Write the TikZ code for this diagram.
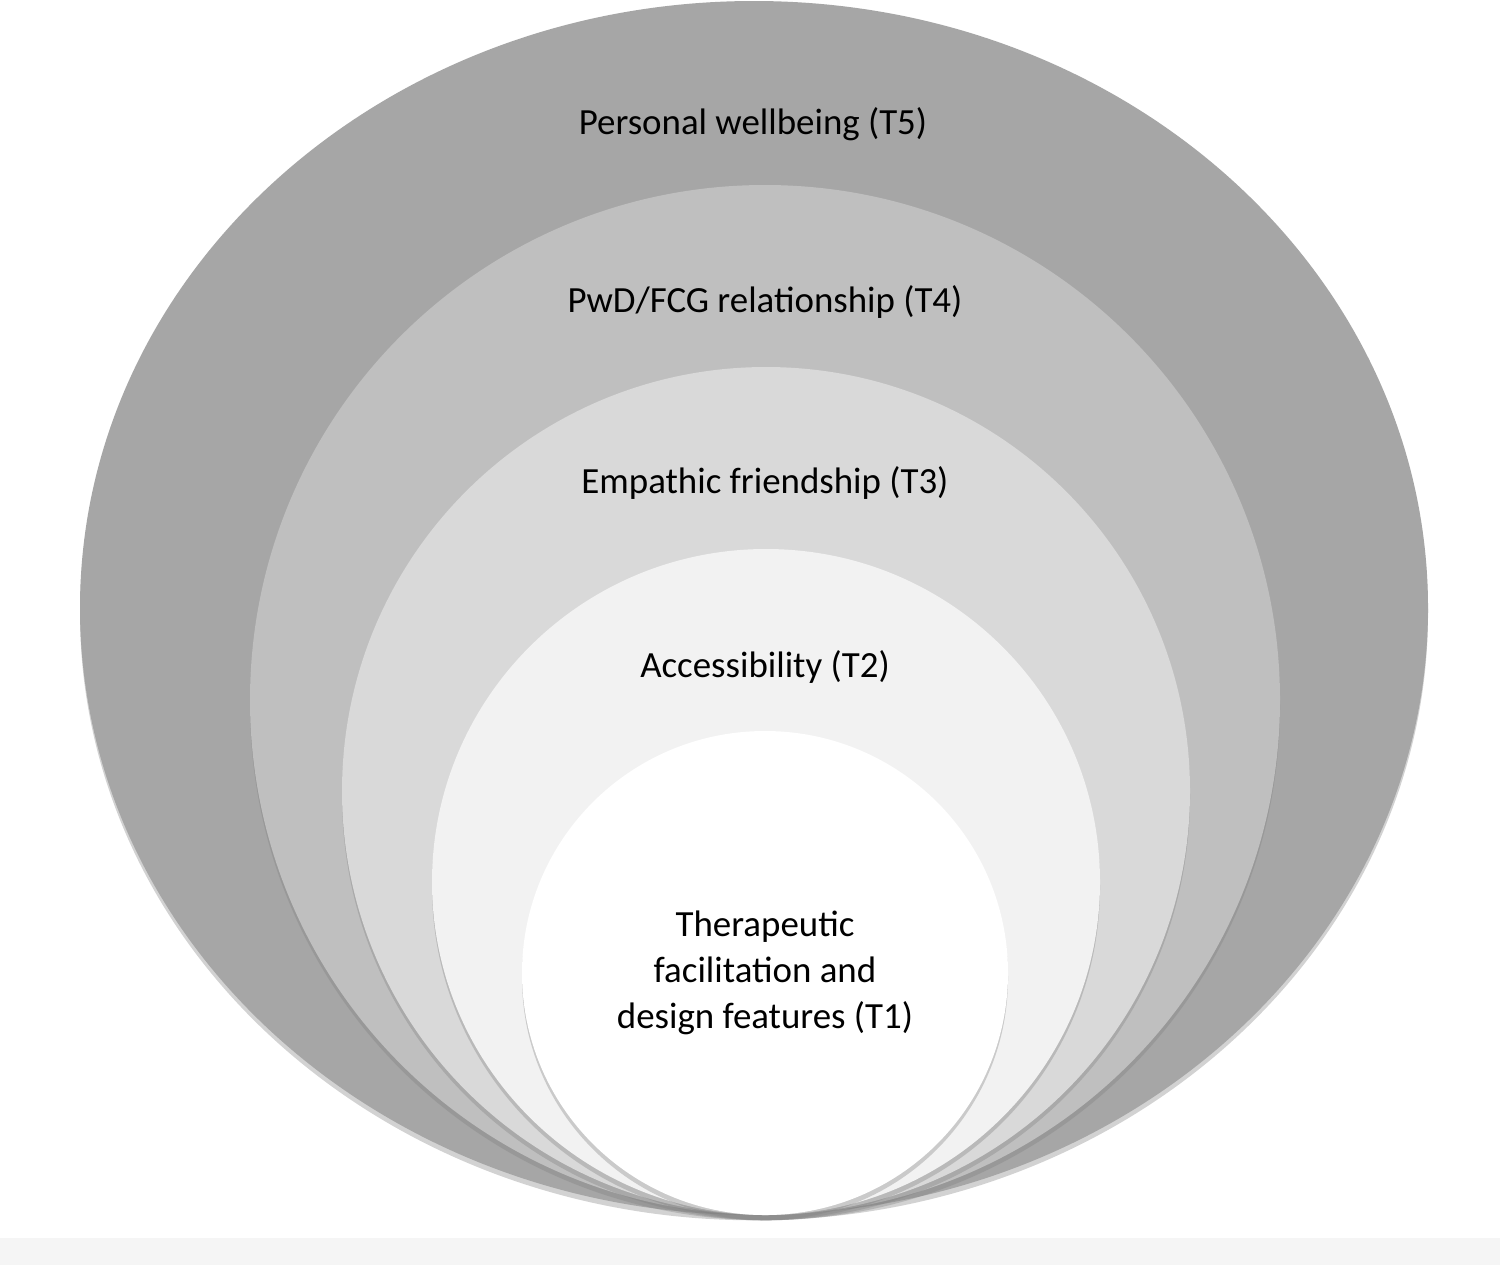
\documentclass[tikz,border=0pt]{standalone}
\usepackage{fontspec}
\setmainfont{Carlito}
\usetikzlibrary{shadows}
\tikzset{
  ring/.style={draw=none, drop shadow={shadow xshift=0pt, shadow yshift=-3pt, opacity=0.35}},
  label/.style={font=\fontsize{21}{26}\selectfont, align=center}
}
\begin{document}
\begin{tikzpicture}[x=0.02cm, y=-0.02cm]
    \useasboundingbox (0,0) rectangle (1500,1265);
    \fill[white] (0,0) rectangle (1500,1265);
    \fill[gray!8] (0,1238) rectangle (1500,1265);

    % rings, outer to inner, all touching at the bottom
    \fill[ring, fill={rgb,255:red,166;green,166;blue,166}] (754,608) ellipse (674 and 607);
    \fill[ring, fill={rgb,255:red,191;green,191;blue,191}] (765,700) ellipse (515 and 515);
    \fill[ring, fill={rgb,255:red,217;green,217;blue,217}] (766,791) ellipse (424 and 424);
    \fill[ring, fill={rgb,255:red,242;green,242;blue,242}] (766,882) ellipse (334 and 333);
    \fill[ring, fill=white] (765,973) ellipse (243 and 242);

    \node[label] (t5) at (753,124) {Personal wellbeing (T5)};
    \node[label] (t4) at (765,302) {PwD/FCG relationship (T4)};
    \node[label] (t3) at (765,483) {Empathic friendship (T3)};
    \node[label] (t2) at (765,667) {Accessibility (T2)};
    \node[label] (t1) at (765,973) {Therapeutic\\facilitation and\\design features (T1)};
\end{tikzpicture}
\end{document}
